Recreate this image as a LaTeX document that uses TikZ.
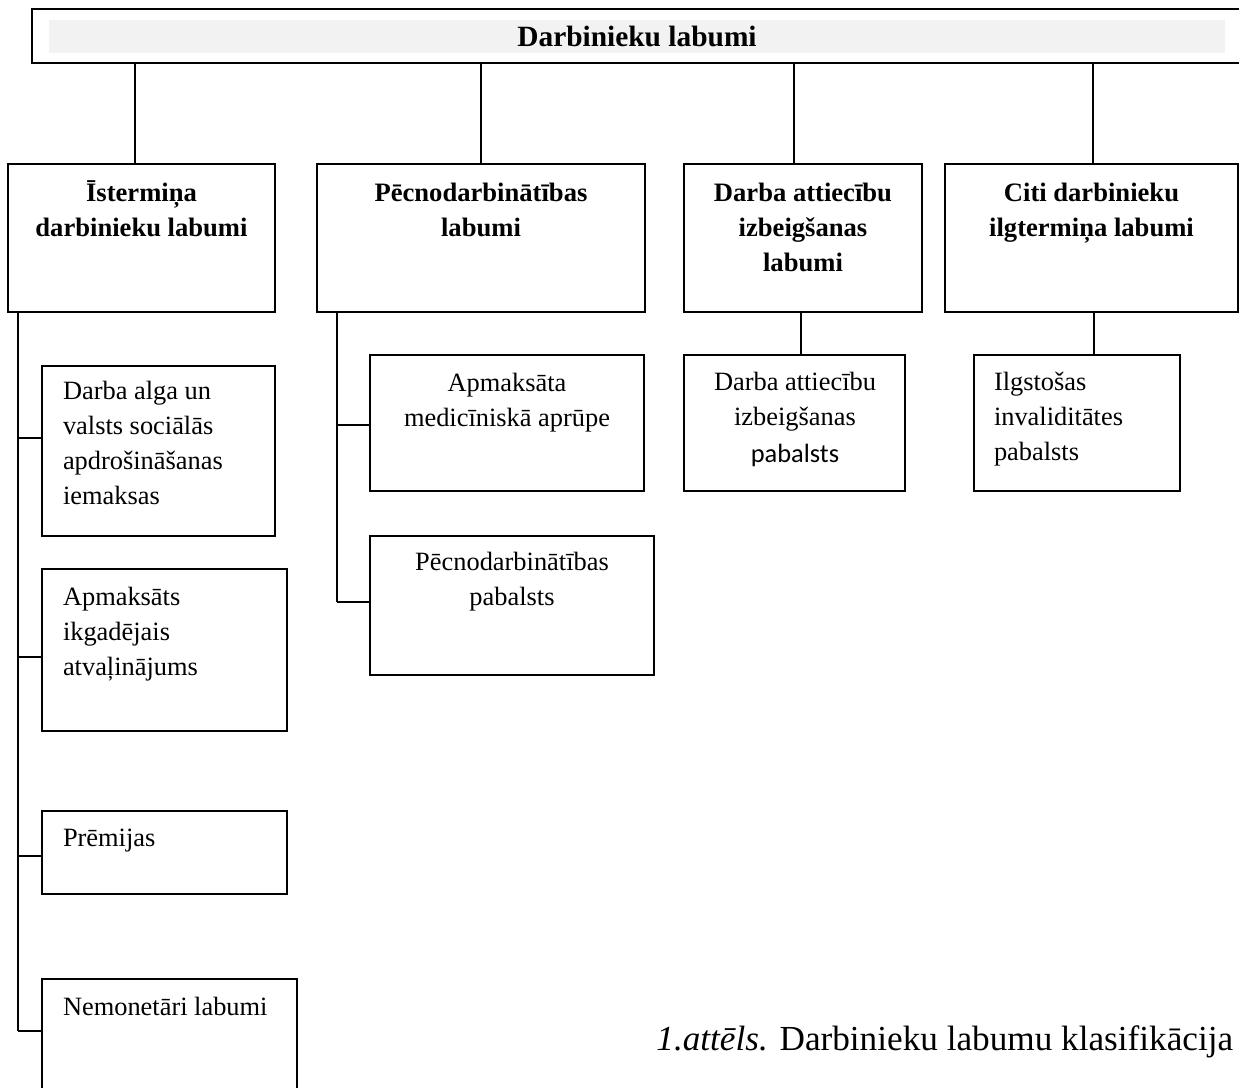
\documentclass[tikz,border=0pt]{standalone}
\usepackage{fontspec}
\setmainfont{Liberation Serif}
\newfontfamily\calibrilike{Carlito}
\definecolor{barfill}{HTML}{F2F2F2}
% box from its corners (x1,y1)-(x2,y2), in pixel units
\newcommand\drawbox[6][]{\node[frame,#1,minimum width={(#5-#3)*0.5pt},minimum height={(#6-#4)*0.5pt}] (#2) at ({(#3+#5)/2},{(#4+#6)/2}) {};}
\begin{document}
\begin{tikzpicture}[x=0.5pt,y=-0.5pt,
  frame/.style={draw=black,line width=0.9pt,inner sep=0pt,outer sep=0pt},
  wire/.style={draw=black,line width=0.9pt},
  lbl/.style={inner sep=0pt,outer sep=0pt,font=\fontsize{13.2}{17.5}\selectfont},
  head/.style={inner sep=0pt,outer sep=0pt,font=\fontsize{13.3}{17.5}\selectfont\bfseries},
]
\useasboundingbox (0,0) rectangle (1239,1088);
\clip (0,0) rectangle (1239,1088);

% top banner
\drawbox{top}{32}{9}{1260}{63}
\drawbox[draw=none,fill=barfill]{bar}{49}{20}{1225}{53}
\node[head,font=\fontsize{14.7}{17.5}\selectfont\bfseries,anchor=base] (title) at (637,46) {Darbinieku labumi};

% category boxes
\drawbox{b1}{8}{164}{275}{312}
\drawbox{b2}{317}{164}{645}{312}
\drawbox{b3}{684}{164}{922}{312}
\drawbox{b4}{945}{164}{1238}{312}

\node[head,anchor=base] (b1t) at (141.5,201) {\parbox[t]{130pt}{\centering Īstermiņa\\ darbinieku labumi}};
\node[head,anchor=base] (b2t) at (481,201) {\parbox[t]{160pt}{\centering Pēcnodarbinātības\\ labumi}};
\node[head,anchor=base] (b3t) at (803,201) {\parbox[t]{118pt}{\centering Darba attiecību\\ izbeigšanas\\ labumi}};
\node[head,anchor=base] (b4t) at (1091.5,201) {\parbox[t]{145pt}{\centering Citi darbinieku\\ ilgtermiņa labumi}};

% banner to categories
\coordinate (c1) at (135,0);
\coordinate (c2) at (481,0);
\coordinate (c3) at (794,0);
\coordinate (c4) at (1093,0);
\draw[wire] (c1 |- top.south) -- (c1 |- b1.north);
\draw[wire] (c2 |- top.south) -- (c2 |- b2.north);
\draw[wire] (c3 |- top.south) -- (c3 |- b3.north);
\draw[wire] (c4 |- top.south) -- (c4 |- b4.north);

% short-term benefits
\drawbox{s1a}{42}{366}{275}{536}
\drawbox{s1b}{42}{569}{287}{731}
\drawbox{s1c}{42}{811}{287}{894}
\drawbox{s1d}{42}{979}{297}{1110}
\node[lbl,anchor=base west] (s1at) at (63,399) {\parbox[t]{110pt}{\raggedright Darba alga un\\ valsts sociālās\\ apdrošināšanas\\ iemaksas}};
\node[lbl,anchor=base west] (s1bt) at (63,605) {\parbox[t]{110pt}{\raggedright Apmaksāts\\ ikgadējais\\ atvaļinājums}};
\node[lbl,anchor=base west] (s1ct) at (63,846) {Prēmijas};
\node[lbl,anchor=base west] (s1dt) at (63,1015) {Nemonetāri labumi};

\coordinate (t1) at (18,0);
\coordinate (j1a) at (18,438);
\coordinate (j1b) at (18,657);
\coordinate (j1c) at (18,856);
\coordinate (j1d) at (18,1031);
\draw[wire] (t1 |- b1.south) -- (j1d);
\draw[wire] (j1a) -- (j1a -| s1a.west);
\draw[wire] (j1b) -- (j1b -| s1b.west);
\draw[wire] (j1c) -- (j1c -| s1c.west);
\draw[wire] (j1d) -- (j1d -| s1d.west);

% post-employment benefits
\drawbox{s2a}{370}{355}{644}{491}
\drawbox{s2b}{370}{536}{654}{675}
\node[lbl,anchor=base] (s2at) at (507,391) {\parbox[t]{135pt}{\centering Apmaksāta\\ medicīniskā aprūpe}};
\node[lbl,anchor=base] (s2bt) at (512,570) {\parbox[t]{140pt}{\centering Pēcnodarbinātības\\ pabalsts}};

\coordinate (t2) at (337,0);
\coordinate (j2a) at (337,425);
\coordinate (j2b) at (337,602);
\draw[wire] (t2 |- b2.south) -- (j2b);
\draw[wire] (j2a) -- (j2a -| s2a.west);
\draw[wire] (j2b) -- (j2b -| s2b.west);

% termination benefits
\drawbox{s3}{684}{355}{905}{491}
\node[lbl,anchor=base] (s3t) at (795,390) {\parbox[t]{110pt}{\centering Darba attiecību\\ izbeigšanas\\[1pt] {\calibrilike pabalsts}}};
\coordinate (c5) at (801,0);
\draw[wire] (c5 |- b3.south) -- (c5 |- s3.north);

% other long-term benefits
\drawbox{s4}{974}{355}{1180}{491}
\node[lbl,anchor=base west] (s4t) at (994,390) {\parbox[t]{95pt}{\raggedright Ilgstošas\\ invaliditātes\\ pabalsts}};
\coordinate (c6) at (1094,0);
\draw[wire] (c6 |- b4.south) -- (c6 |- s4.north);

% caption
\node[inner sep=0pt,anchor=base west,font=\fontsize{17.6}{20}\selectfont] (cap) at (656,1050) {\textit{1.attēls.} Darbinieku labumu klasifikācija};
\end{tikzpicture}
\end{document}
